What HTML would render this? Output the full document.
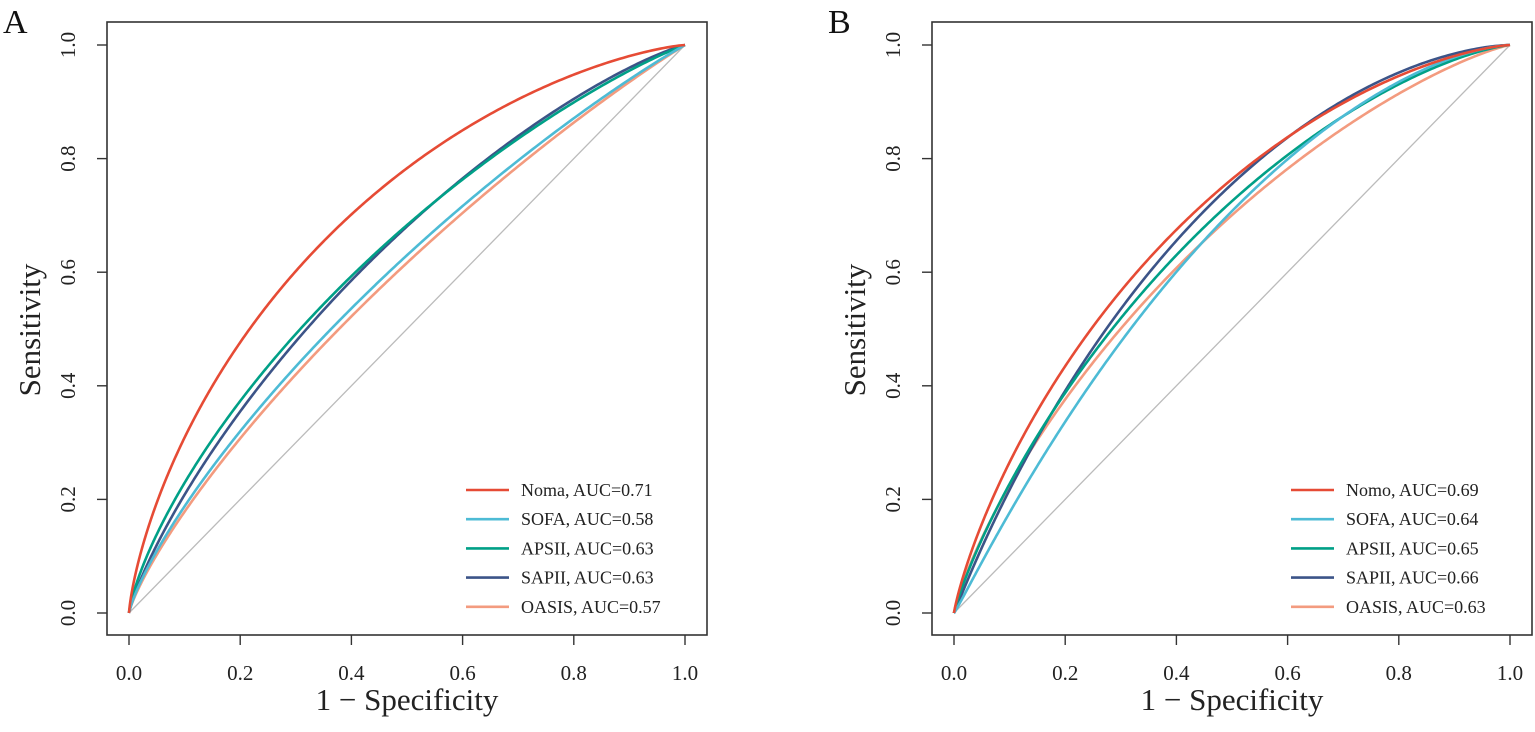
<!DOCTYPE html>
<html><head><meta charset="utf-8"><style>
html,body{margin:0;padding:0;background:#fff;}
svg{display:block;font-family:"Liberation Serif",serif;}
</style></head><body>
<svg id="s" width="1535" height="732" viewBox="0 0 1535 732" xmlns="http://www.w3.org/2000/svg"></svg>
<script>
const NS="http://www.w3.org/2000/svg";
const s=document.getElementById('s');
function el(t,a,txt){const e=document.createElementNS(NS,t);for(const k in a)e.setAttribute(k,a[k]);if(txt!==undefined)e.textContent=txt;s.appendChild(e);return e;}
function erf(x){const t=1/(1+0.3275911*Math.abs(x));const y=1-(((((1.061405429*t-1.453152027)*t)+1.421413741)*t-0.284496736)*t+0.254829592)*t*Math.exp(-x*x);return x>=0?y:-y;}
function Phi(x){return 0.5*(1+erf(x/Math.SQRT2));}
function iPhi(p){let lo=-10,hi=10;for(let i=0;i<80;i++){const m=(lo+hi)/2;if(Phi(m)<p)lo=m;else hi=m;}return (lo+hi)/2;}
function panel(ox,label,series){
  const L=ox+107,R=ox+707,T=22,B=635,x0=ox+129,x1=ox+685,y0=613,y1=45;
  const X=v=>x0+(x1-x0)*v, Y=v=>y0+(y1-y0)*v;
  el('rect',{x:L,y:T,width:R-L,height:B-T,fill:'none',stroke:'#333','stroke-width':1.6});
  el('line',{x1:X(0),y1:Y(0),x2:X(1),y2:Y(1),stroke:'#bbb','stroke-width':1.3});
  for(let i=0;i<=5;i++){const v=i/5;
    el('line',{x1:X(v),y1:B,x2:X(v),y2:B+10,stroke:'#333','stroke-width':1.4});
    el('text',{x:X(v),y:B+45,'font-size':21,'text-anchor':'middle',fill:'#222'},v.toFixed(1));
    el('line',{x1:L,y1:Y(v),x2:L-10,y2:Y(v),stroke:'#333','stroke-width':1.4});
    const tx=L-32,ty=Y(v);
    el('text',{x:tx,y:ty,'font-size':21,'text-anchor':'middle',fill:'#222',transform:`rotate(-90 ${tx} ${ty})`},v.toFixed(1));
  }
  el('text',{x:ox+3,y:33,'font-size':34,fill:'#111'},label);
  el('text',{x:(L+R)/2,y:710,'font-size':31,'text-anchor':'middle',fill:'#222'},'1 \u2212 Specificity');
  el('text',{x:ox+40,y:330,'font-size':31,'text-anchor':'middle',fill:'#222',transform:`rotate(-90 ${ox+40} 330)`},'Sensitivity');
  for(let k=series.length-1;k>=0;k--){const sr=series[k];
    const a=iPhi(sr.auc)*Math.sqrt(1+sr.b*sr.b);
    let d=`M${X(0)},${Y(0)}`;
    for(let i=1;i<400;i++){const x=Math.pow(i/400,2.2);const y=Phi(a+sr.b*iPhi(x));d+=` L${X(x).toFixed(2)},${Y(y).toFixed(2)}`;}
    d+=` L${X(1)},${Y(1)}`;
    el('path',{d:d,fill:'none',stroke:sr.c,'stroke-width':2.6});
  }
  series.forEach((sr,i)=>{const y=490+i*29.2;
    el('line',{x1:ox+466,y1:y,x2:ox+509,y2:y,stroke:sr.c,'stroke-width':2.6});
    el('text',{x:ox+521,y:y+6,'font-size':18,fill:'#222'},sr.n+', AUC='+sr.t);
  });
}
const C={r:'#E64B35',lb:'#4DBBD5',g:'#00A087',n:'#3C5488',s:'#F39B7F'};
panel(0,'A',[{n:'Noma',t:'0.71',auc:0.71,b:1,c:C.r},{n:'SOFA',t:'0.58',auc:0.595,b:0.95,c:C.lb},{n:'APSII',t:'0.63',auc:0.635,b:0.95,c:C.g},{n:'SAPII',t:'0.63',auc:0.63,b:1.0,c:C.n},{n:'OASIS',t:'0.57',auc:0.585,b:0.95,c:C.s}]);
panel(825,'B',[{n:'Nomo',t:'0.69',auc:0.69,b:1.05,c:C.r},{n:'SOFA',t:'0.64',auc:0.64,b:1.15,c:C.lb},{n:'APSII',t:'0.65',auc:0.66,b:1.05,c:C.g},{n:'SAPII',t:'0.66',auc:0.675,b:1.15,c:C.n},{n:'OASIS',t:'0.63',auc:0.645,b:1.0,c:C.s}]);
</script>
</body></html>
